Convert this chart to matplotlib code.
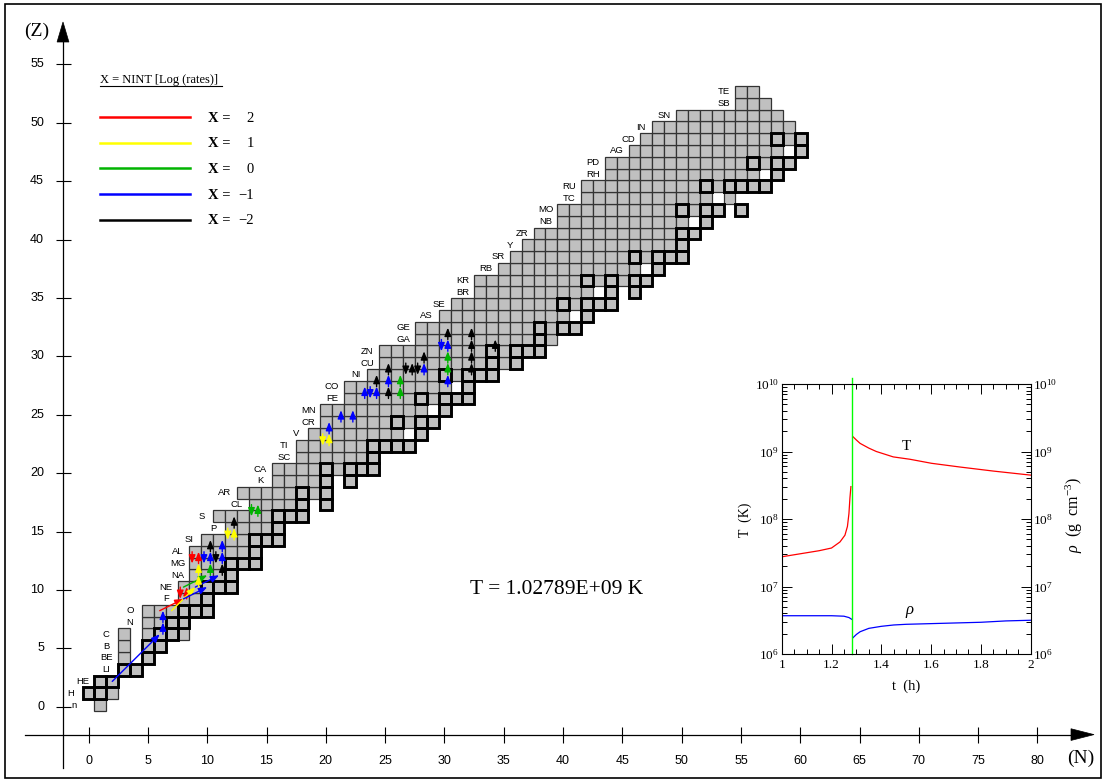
import matplotlib
matplotlib.use('Agg')
import matplotlib.pyplot as plt
from matplotlib.patches import Rectangle, Polygon
from matplotlib.ticker import LogLocator, MultipleLocator, NullFormatter
import numpy as np

plt.rcParams['font.family'] = ['Liberation Serif', 'DejaVu Serif']
plt.rcParams['mathtext.fontset'] = 'custom'
plt.rcParams['mathtext.rm'] = 'Liberation Serif'
plt.rcParams['mathtext.it'] = 'Liberation Serif:italic'

W, H = 1106, 782

# ---------------- data ----------------
ELEMENTS = ['n', 'H', 'HE', 'LI', 'BE', 'B', 'C', 'N', 'O', 'F', 'NE', 'NA', 'MG', 'AL', 'SI',
            'P', 'S', 'CL', 'AR', 'K', 'CA', 'SC', 'TI', 'V', 'CR', 'MN', 'FE', 'CO', 'NI',
            'CU', 'ZN', 'GA', 'GE', 'AS', 'SE', 'BR', 'KR', 'RB', 'SR', 'Y', 'ZR', 'NB', 'MO',
            'TC', 'RU', 'RH', 'PD', 'AG', 'CD', 'IN', 'SN', 'SB', 'TE']
NMIN = [1, 0, 1, 3, 3, 3, 3, 5, 5, 8, 8, 9, 9, 9, 10, 12, 11, 14, 13, 16, 16, 18, 18, 19, 20,
        20, 22, 22, 24, 25, 25, 28, 28, 30, 31, 33, 33, 35, 36, 37, 38, 40, 40, 42, 42, 44,
        44, 46, 47, 48, 50, 55, 55]
NMAX = [1, 2, 2, 4, 5, 6, 8, 8, 10, 10, 12, 12, 14, 14, 16, 16, 18, 20, 20, 22, 24, 24, 27,
        28, 29, 30, 32, 32, 34, 36, 38, 39, 41, 42, 44, 46, 47, 48, 50, 50, 51, 52, 55, 54,
        57, 58, 59, 60, 60, 59, 58, 57, 56]
HOLES = {4: [4], 5: [4], 6: [4], 17: [19], 19: [21], 23: [27], 25: [29], 27: [31],
         33: [41], 35: [43, 45], 37: [47], 41: [51], 42: [54], 43: [53], 45: [57], 47: [59]}
STABLE = {1: [0, 1], 2: [1, 2], 3: [3, 4], 4: [5], 5: [5, 6], 6: [6, 7], 7: [7, 8],
          8: [8, 9, 10], 9: [10], 10: [10, 11, 12], 11: [12], 12: [12, 13, 14], 13: [14],
          14: [14, 15, 16], 15: [16], 16: [16, 17, 18, 20], 17: [18, 20], 18: [18, 20, 22],
          19: [20, 22], 20: [20, 22, 23, 24, 26, 28], 21: [24], 22: [24, 25, 26, 27, 28],
          23: [28], 24: [26, 28, 29, 30], 25: [30], 26: [28, 30, 31, 32], 27: [32],
          28: [30, 32, 33, 34, 36], 29: [34, 36], 30: [34, 36, 37, 38, 40], 31: [38, 40],
          32: [38, 40, 41, 42, 44], 33: [42], 34: [40, 42, 43, 44, 46, 48], 35: [44, 46],
          36: [42, 44, 46, 47, 48, 50], 37: [48, 50], 38: [46, 48, 49, 50], 39: [50],
          40: [50, 51, 52, 54, 56], 41: [52], 42: [50, 52, 53, 54, 55, 56, 58],
          44: [52, 54, 55, 56, 57, 58, 60], 45: [58], 46: [56, 58, 59, 60, 62, 64],
          47: [60, 62], 48: [58, 60, 62, 63, 64], 49: [64, 66], 50: [62, 64, 65, 66],
          51: [70, 72], 52: [68, 69, 70]}

# reaction flows: from (N0, Z0) to (N1, Z1), X = NINT[log(rate)]
FLOW_N0 = [2, 6, 6, 6, 8, 8, 7, 8, 9, 8, 9, 9, 9, 9, 10, 10, 10, 10, 11, 11, 11, 11,
           12, 12, 12, 14, 14, 20, 20, 20, 21, 22, 23, 24, 24, 24, 25, 25, 25, 26, 26,
           27, 27, 28, 28, 28, 30, 30, 30, 30, 30, 30, 32, 32, 32, 32, 34]
FLOW_Z0 = [2, 6, 7, 8, 9, 10, 8, 10, 10, 9, 10, 11, 12, 13, 12, 13, 11, 13, 12, 13, 11, 13,
           14, 15, 15, 16, 17, 22, 23, 23, 24, 24, 26, 26, 27, 27, 26, 27, 28, 26, 27,
           28, 29, 29, 28, 29, 27, 28, 29, 30, 31, 31, 28, 29, 30, 31, 30]
FLOW_N1 = [6, 6, 6, 8, 8, 8, 9, 10, 11, 10, 9, 9, 9, 9, 10, 10, 10, 10, 11, 11, 11, 11,
           12, 12, 12, 14, 14, 20, 20, 20, 21, 22, 23, 24, 24, 24, 25, 25, 25, 26, 26,
           27, 27, 28, 28, 28, 30, 30, 30, 30, 30, 30, 32, 32, 32, 32, 34]
FLOW_Z1 = [6, 7, 8, 9, 10, 9, 10, 11, 11, 10, 11, 12, 13, 12, 13, 12, 12, 14, 13, 14, 12, 12,
           15, 14, 16, 17, 16, 23, 22, 24, 25, 25, 27, 27, 26, 28, 27, 28, 29, 27, 28,
           29, 28, 28, 29, 30, 28, 29, 30, 31, 30, 32, 29, 30, 31, 32, 31]
FLOW_X = [-1, -1, -1, 2, 2, 2, 1, 0, -1, -1, 1, 1, 2, 2, -1, -1, 0, -2, -1, -1, -2, -2,
          1, 1, -2, 0, 0, 1, 1, -1, -1, -1, -1, -1, -1, -2, -2, -1, -2, 0, 0,
          -2, -2, -2, -1, -2, -1, 0, 0, -1, -1, -2, -2, -2, -2, -2, -2]

LEGEND_X = [2, 1, 0, -1, -2]
X_COLORS = {2: '#ff0000', 1: '#ffff00', 0: '#00b400', -1: '#0000ff', -2: '#000000'}

N_TICKS = list(range(0, 81, 5))
Z_TICKS = list(range(0, 56, 5))

# inset: temperature and density history
T_TIME_1 = [1.0, 1.05, 1.1, 1.15, 1.2, 1.234, 1.254, 1.264, 1.270, 1.274, 1.278]
T_LOG_1 = [7.44, 7.47, 7.50, 7.53, 7.57, 7.66, 7.76, 7.89, 8.08, 8.31, 8.48]
T_TIME_2 = [1.286, 1.30, 1.315, 1.35, 1.38, 1.448, 1.515, 1.602, 1.716, 1.85, 2.0]
T_LOG_2 = [9.22, 9.17, 9.12, 9.05, 9.0, 8.92, 8.885, 8.825, 8.77, 8.71, 8.65]
RHO_TIME_1 = [1.0, 1.2, 1.25, 1.27, 1.283]
RHO_LOG_1 = [6.567, 6.567, 6.56, 6.54, 6.51]
RHO_TIME_2 = [1.286, 1.30, 1.315, 1.35, 1.40, 1.45, 1.50, 1.60, 1.70, 1.80, 1.90, 2.0]
RHO_LOG_2 = [6.24, 6.29, 6.33, 6.38, 6.41, 6.43, 6.44, 6.45, 6.46, 6.47, 6.49, 6.50]
T_NOW = 1.284
T_TEXT = 'T = 1.02789E+09 K'

# ---------------- figure ----------------
fig = plt.figure(figsize=(W / 100, H / 100), dpi=100)

def fx(x):
    return x / W

def fy(y):
    return 1 - y / H

# frame axes (coordinate axes with arrows)
axf = fig.add_axes([0, 0, 1, 1])
axf.patch.set_visible(False)
axf.set_xlim(-88.6 / 11.86, (W - 88.6) / 11.86)
axf.set_ylim((706.8 - H) / 11.68, 706.8 / 11.68)
for s in ['top', 'right']:
    axf.spines[s].set_visible(False)
axf.spines['left'].set_position(('data', (63 - 88.6) / 11.86))
axf.spines['bottom'].set_position(('data', (706.8 - 734.6) / 11.68))
axf.spines['left'].set_bounds((706.8 - 768) / 11.68, (706.8 - 42) / 11.68)
axf.spines['bottom'].set_bounds((25 - 88.6) / 11.86, (1071 - 88.6) / 11.86)
for s in ['left', 'bottom']:
    axf.spines[s].set_linewidth(0.9)
axf.set_xticks(N_TICKS)
axf.set_yticks(Z_TICKS)
axf.set_xticklabels([])
axf.set_yticklabels([])
axf.tick_params(axis='x', direction='inout', length=12.2, width=0.8)
axf.tick_params(axis='y', direction='inout', length=10.8, width=0.8)
for v in N_TICKS:
    axf.text(v, (706.8 - 761.4) / 11.68, str(v), ha='center', va='center',
             fontsize=9, family='Liberation Sans')
for v in Z_TICKS:
    axf.text((44 - 88.6) / 11.86, v, str(v), ha='right', va='center',
             fontsize=9, family='Liberation Sans')
# arrow heads
xa = (63 - 88.6) / 11.86
axf.add_patch(Polygon([[xa, (706.8 - 22) / 11.68], [xa - 0.5, (706.8 - 42) / 11.68],
                       [xa + 0.5, (706.8 - 42) / 11.68]], closed=True, fc='k', ec='k',
                      lw=0.5, clip_on=False))
ya = (706.8 - 734.6) / 11.68
axf.add_patch(Polygon([[(1094 - 88.6) / 11.86, ya], [(1071 - 88.6) / 11.86, ya + 0.5],
                       [(1071 - 88.6) / 11.86, ya - 0.5]], closed=True, fc='k', ec='k',
                      lw=0.5, clip_on=False))
fig.text(fx(37), fy(31), '(Z)', fontsize=14, ha='center', va='center')
fig.text(fx(1081), fy(758), '(N)', fontsize=14, ha='center', va='center')

# nuclide chart axes
ax = fig.add_axes([0, 0, 1, 1])
ax.patch.set_visible(False)
ax.set_xlim(-88.5 / 11.87, (W - 88.5) / 11.87)
ax.set_ylim((705 - H) / 11.79, 705 / 11.79)
ax.axis('off')

present = set()
for z, (n0, n1) in enumerate(zip(NMIN, NMAX)):
    for n in range(n0, n1 + 1):
        if n in HOLES.get(z, []):
            continue
        present.add((n, z))
        ax.add_patch(Rectangle((n - 0.5, z - 0.5), 1, 1, fc='#c0c0c0', ec='#333333',
                               lw=0.9, zorder=1))
for z, ns in STABLE.items():
    for n in ns:
        if (n, z) in present:
            ax.add_patch(Rectangle((n - 0.5, z - 0.5), 1, 1, fill=False, ec='k',
                                   lw=2.1, zorder=2))
for z, name in enumerate(ELEMENTS):
    xl = NMIN[z] - 1.5 if z > 0 else -1.25
    ax.text(xl, z, name, ha='center', va='center', fontsize=6.8,
            family='Liberation Sans', zorder=3)

for n0, z0, n1, z1, xv in zip(FLOW_N0, FLOW_Z0, FLOW_N1, FLOW_Z1, FLOW_X):
    dx = 0.0
    if n0 == n1:
        dx = 0.27 if z1 > z0 else -0.27
    ax.annotate('', xy=(n1 + dx, z1), xytext=(n0 + dx, z0),
                arrowprops=dict(arrowstyle='-|>,head_length=0.55,head_width=0.22',
                                color=X_COLORS[xv], lw=1.0, shrinkA=0, shrinkB=0,
                                mutation_scale=9), zorder=4)

# legend
fig.text(fx(100), fy(80), 'X = NINT [Log (rates)]', fontsize=9, ha='left', va='center')
fig.add_artist(plt.Line2D([fx(100), fx(222)], [fy(86), fy(86)], color='k', lw=0.8))
for i, xv in enumerate(LEGEND_X):
    yy = 117 + i * 25.7
    fig.add_artist(plt.Line2D([fx(100), fx(190)], [fy(yy), fy(yy)],
                              color=X_COLORS[xv], lw=1.8))
    fig.text(fx(208), fy(yy + 1), 'X =', fontsize=10.5, fontweight='bold',
             ha='left', va='center')
    fig.text(fx(254), fy(yy + 1), ('%d' % xv).replace('-', '\u2212'), fontsize=10.5,
             ha='right', va='center')

fig.text(fx(470), fy(590), T_TEXT, fontsize=15.5, ha='left', va='center')

# border
fig.add_artist(Rectangle((fx(5), fy(778)), fx(1096), 774 / H, transform=fig.transFigure,
                         fill=False, ec='k', lw=1.2))

# ---------------- inset ----------------
ins = fig.add_axes([fx(781.7), fy(654), 249 / W, 270 / H])
ins.set_facecolor('white')
ins.set_yscale('log')
ins.set_xlim(1, 2)
ins.set_ylim(1e6, 1e10)
ins.plot(T_TIME_1, 10 ** np.array(T_LOG_1), color='#ff0000', lw=0.9)
ins.plot(T_TIME_2, 10 ** np.array(T_LOG_2), color='#ff0000', lw=0.9)
ins.plot(RHO_TIME_1, 10 ** np.array(RHO_LOG_1), color='#0000ff', lw=0.9)
ins.plot(RHO_TIME_2, 10 ** np.array(RHO_LOG_2), color='#0000ff', lw=0.9)
ins.plot([T_NOW, T_NOW], [1e6, 10 ** 10.09], color='#00ff00', lw=1.0, clip_on=False)
ins.xaxis.set_major_locator(MultipleLocator(0.2))
ins.xaxis.set_minor_locator(MultipleLocator(0.05))
ins.yaxis.set_major_locator(LogLocator(base=10, numticks=10))
ins.yaxis.set_minor_locator(LogLocator(base=10, subs=np.arange(2, 10), numticks=10))
ins.yaxis.set_minor_formatter(NullFormatter())
ins.tick_params(which='both', direction='in', top=True, right=True, labelsize=9.5,
                width=0.7)
ins.tick_params(which='major', length=7)
ins.tick_params(which='minor', length=3.5)
ins.tick_params(axis='y', labelright=True, pad=2)
ins.xaxis.set_major_formatter(plt.FuncFormatter(lambda v, p: ('%g' % v)))
for s in ins.spines.values():
    s.set_linewidth(0.8)
ins.set_xlabel('t  (h)', fontsize=10.5, labelpad=6)
ins.text(1.5, 10 ** 9.07, 'T', fontsize=11, ha='center', va='center')
ins.text(1.515, 10 ** 6.62, r'$\rho$', fontsize=12, ha='center', va='center')
fig.text(fx(745), fy(520), 'T  (K)', rotation=90, fontsize=10, ha='center', va='center')
fig.text(fx(1074), fy(515), r'$\rho$  (g  cm$^{-3}$)', rotation=90, fontsize=11.5,
         ha='center', va='center')

fig.savefig('out.png', dpi=100)
